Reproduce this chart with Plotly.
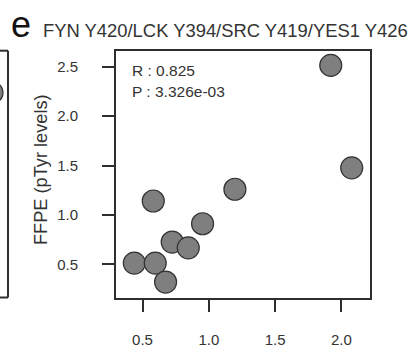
import plotly.graph_objects as go

# Data
ffpe_x = [1.92, 2.078, 1.197, 0.581, 0.953, 0.724, 0.845, 0.438, 0.596, 0.674]
ffpe_y = [2.514, 1.477, 1.261, 1.142, 0.912, 0.727, 0.668, 0.514, 0.514, 0.322]
x_ticks = [0.5, 1.0, 1.5, 2.0]
y_ticks = [0.5, 1.0, 1.5, 2.0, 2.5]
stats_lines = ["R : 0.825", "P : 3.326e-03"]
panel_letter = "e"
panel_title = "FYN Y420/LCK Y394/SRC Y419/YES1 Y426"
y_title = "FFPE (pTyr levels)"
# point of the neighbouring (cropped) panel at the left edge
neighbor_x = [0.0]
neighbor_y = [0.83]

OFF = 8                      # figure is shifted 8px left on the page
W, H = 414 + OFF, 351
px = lambda v: (v + OFF) / W     # screen x -> paper
py = lambda v: 1 - v / H         # screen y -> paper

TXT = "#333333"
LINE = "#2e2e2e"
FONT = "Liberation Sans, Arial, sans-serif"
MARK = dict(size=22, color="#7f7f7f", line=dict(color="#333333", width=1.2))

fig = go.Figure()
fig.add_trace(go.Scatter(
    x=ffpe_x, y=ffpe_y, mode="markers", marker=MARK,
    cliponaxis=False, showlegend=False, hoverinfo="skip",
))
fig.add_trace(go.Scatter(
    x=neighbor_x, y=neighbor_y, mode="markers", xaxis="x2", yaxis="y2",
    marker=MARK, cliponaxis=False, showlegend=False, hoverinfo="skip",
))

ydom = [py(297.5), py(50.7)]
axis_common = dict(showline=True, linewidth=2, linecolor=LINE, mirror=True,
                   ticks="outside", ticklen=12, tickwidth=2, tickcolor=LINE,
                   showgrid=False, zeroline=False,
                   tickfont=dict(family=FONT, size=15, color=TXT))
fig.update_layout(
    width=W, height=H,
    margin=dict(l=0, r=0, t=0, b=0),
    paper_bgcolor="white", plot_bgcolor="white",
    xaxis=dict(domain=[px(116), px(370)], range=[0.3, 2.216],
               tickvals=x_ticks, ticktext=[f"{v:.1f}" for v in x_ticks],
               anchor="y", ticklabelstandoff=15, **axis_common),
    yaxis=dict(domain=ydom, range=[0.166, 2.662],
               tickvals=y_ticks, ticktext=[f"{v:.1f}" for v in y_ticks],
               anchor="x", ticklabelstandoff=21, **axis_common),
    xaxis2=dict(domain=[0, px(8)], range=[-0.001, 1], showline=False, showgrid=False,
                zeroline=False, showticklabels=False, ticks="", anchor="y2"),
    yaxis2=dict(domain=ydom, range=[0, 1], showline=False, showgrid=False,
                zeroline=False, showticklabels=False, ticks="", anchor="x2"),
)

# frame of the cropped neighbouring panel
fig.add_shape(type="line", xref="paper", yref="paper", x0=px(8), x1=px(8),
              y0=ydom[0], y1=ydom[1], line=dict(color=LINE, width=2))
fig.add_shape(type="line", xref="paper", yref="paper", x0=0, x1=px(8),
              y0=ydom[0], y1=ydom[0], line=dict(color=LINE, width=2))
fig.add_shape(type="line", xref="paper", yref="paper", x0=0, x1=px(8),
              y0=ydom[1], y1=ydom[1], line=dict(color=LINE, width=2))

fig.add_annotation(text=panel_letter, xref="paper", yref="paper",
                   x=px(8.5), y=py(24.5), xanchor="left", yanchor="middle",
                   showarrow=False, font=dict(family=FONT, size=36, color="#111111"))
fig.add_annotation(text=panel_title, xref="paper", yref="paper",
                   x=px(40.7), y=py(30.5), xanchor="left", yanchor="middle",
                   showarrow=False, font=dict(family=FONT, size=18.4, color=TXT))
fig.add_annotation(text=y_title, xref="paper", yref="paper", textangle=-90,
                   x=px(41), y=py(170), xanchor="center", yanchor="middle",
                   showarrow=False, font=dict(family=FONT, size=18.2, color=TXT))
fig.add_annotation(text=stats_lines[0], xref="paper", yref="paper",
                   x=px(129.7), y=py(70), xanchor="left", yanchor="middle",
                   showarrow=False, font=dict(family=FONT, size=15.5, color=TXT))
fig.add_annotation(text=stats_lines[1], xref="paper", yref="paper",
                   x=px(129.7), y=py(91.5), xanchor="left", yanchor="middle",
                   showarrow=False, font=dict(family=FONT, size=15.5, color=TXT))

fig.write_html(
    "out.html",
    config={"displayModeBar": False},
    post_script=("document.body.style.margin='0';"
                 "var gd=document.getElementById('{plot_id}');"
                 "gd.style.marginLeft='-%dpx';" % OFF),
)
